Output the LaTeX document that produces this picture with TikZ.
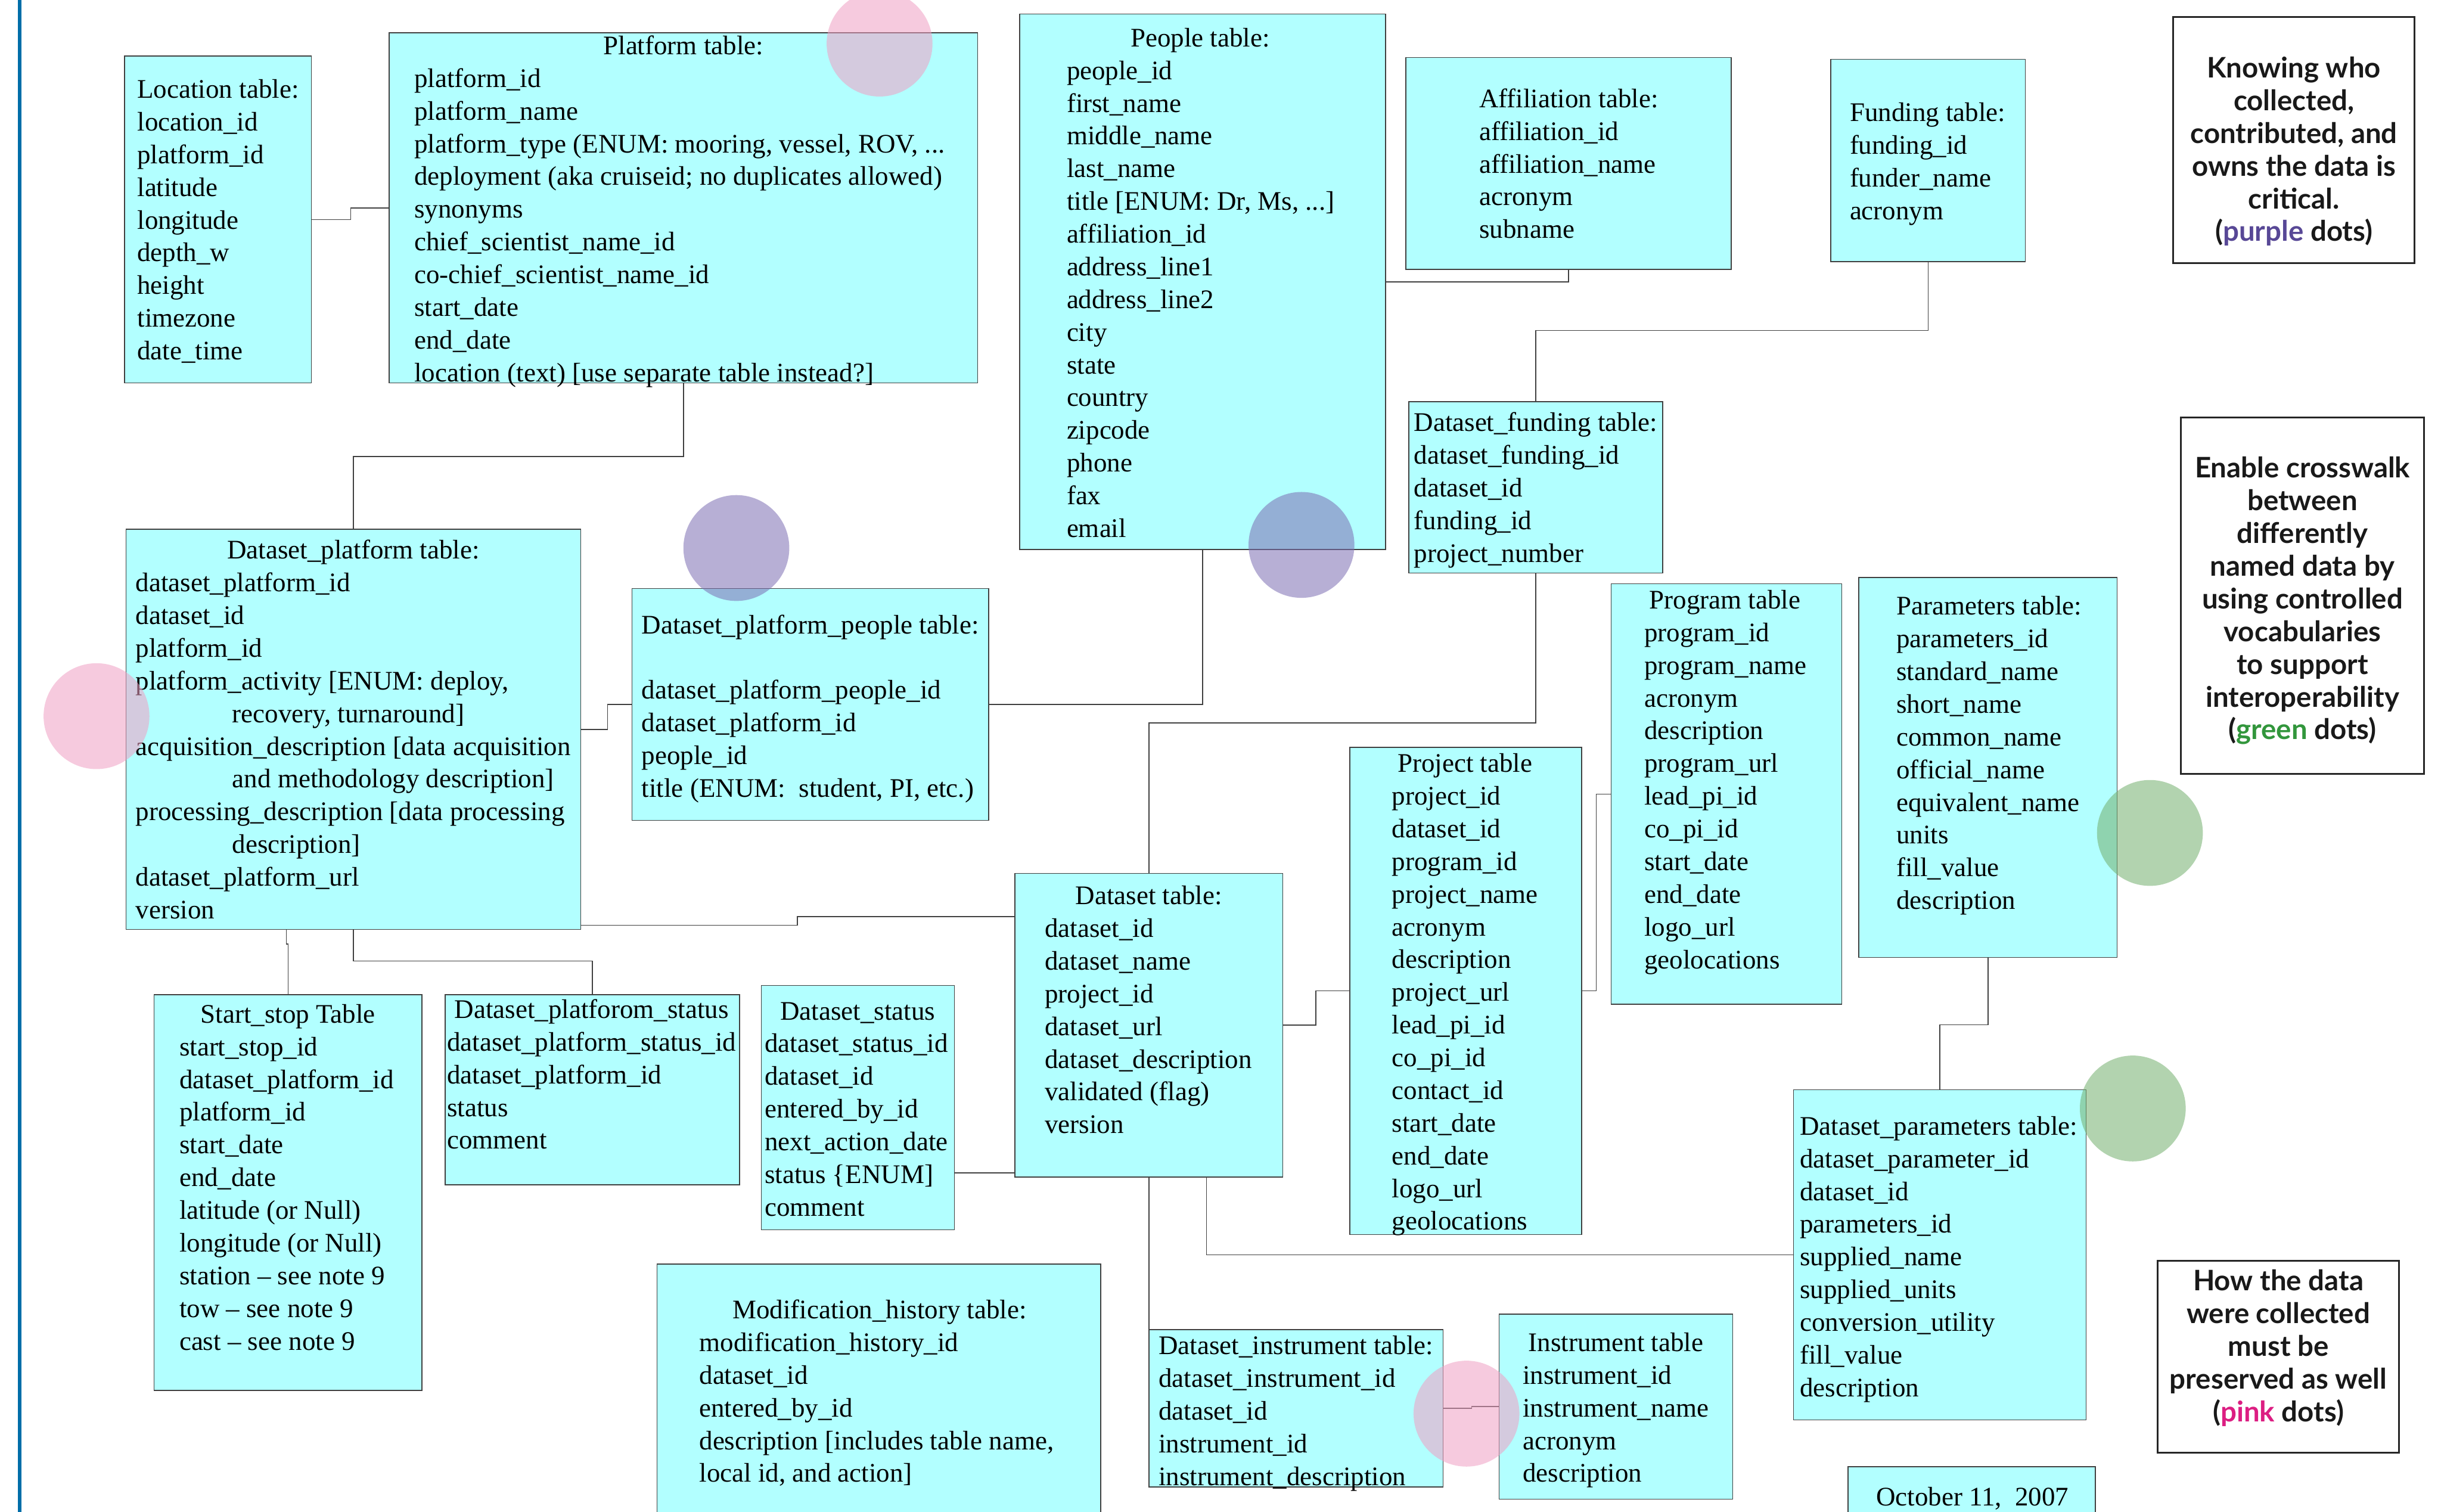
\documentclass[tikz,border=0pt]{standalone}
\usepackage{fontspec}
\setmainfont{Liberation Serif}
\newfontfamily\notefont{Lato}
\usetikzlibrary{fit,calc}

\definecolor{tableCyan}{RGB}{178,255,255}
\definecolor{sideBlue}{RGB}{0,110,168}
\definecolor{pinkDot}{RGB}{240,160,195}
\definecolor{purpleDot}{RGB}{125,110,180}
\definecolor{greenDot}{RGB}{115,175,110}
\definecolor{notePurple}{RGB}{88,72,150}
\definecolor{noteGreen}{RGB}{50,150,60}
\definecolor{notePink}{RGB}{220,30,130}

%% Rows of a table (baseline of the node = first row).
\newcommand{\tableRows}[1]{\begin{tabular}[t]{@{}l@{}}#1\end{tabular}}
\newcommand{\noteRows}[1]{\begin{tabular}[t]{@{}c@{}}#1\end{tabular}}

\begin{document}
\begin{tikzpicture}[x=0.03cm,y=-0.03cm,%%
  tableBox/.style={draw=black!75,line width=0.5pt,fill=tableCyan,inner sep=0pt},%%
  tableText/.style={font=\fontsize{14.7}{17.93}\selectfont,inner sep=0pt,anchor=base west,yshift=-0.03cm},%%
  tableTitle/.style={font=\fontsize{14.7}{17.93}\selectfont,inner sep=0pt,anchor=base,yshift=-0.03cm},%%
  noteBox/.style={draw=black!85,line width=1pt,inner sep=0pt},%%
  noteText/.style={font=\notefont\bfseries\fontsize{15.5}{17.93}\selectfont,inner sep=0pt,anchor=base,text=black!90,yshift=-0.06cm},%%
  linkStyle/.style={draw=black!75,line width=0.5pt},%%
  dotStyle/.style={fill opacity=0.55}%%
]
%%
\clip (0,0) rectangle (1568,971);
\fill[white] (0,0) rectangle (1568,971);
%% Blue rule on the left.
\draw[line width=2pt,draw=sideBlue] (12.5,0) -- (12.5,971);
%%
%% Top row of tables.
\node[tableBox,fit={(80,36) (200,246)}] (location) {};
\node[tableText] (locationText) at (88,62) {\tableRows{Location table:\\location\_id\\platform\_id\\latitude\\longitude\\depth\_w\\height\\timezone\\date\_time}};
%%
\node[tableBox,fit={(250,21) (628,246)}] (platform) {};
\node[tableTitle] (platformTitle) at (439,34) {Platform table:};
\node[tableText] (platformText) at (266,55) {\tableRows{platform\_id\\platform\_name\\platform\_type (ENUM: mooring, vessel, ROV, ...\\deployment (aka cruiseid; no duplicates allowed)\\synonyms\\chief\_scientist\_name\_id\\co-chief\_scientist\_name\_id\\start\_date\\end\_date\\location (text) [use separate table instead?]}};
%%
\node[tableBox,fit={(655,9) (890,353)}] (people) {};
\node[tableTitle] (peopleTitle) at (771,29) {People table:};
\node[tableText] (peopleText) at (685,50) {\tableRows{people\_id\\first\_name\\middle\_name\\last\_name\\title [ENUM: Dr, Ms, ...]\\affiliation\_id\\address\_line1\\address\_line2\\city\\state\\country\\zipcode\\phone\\fax\\email}};
%%
\node[tableBox,fit={(903,37) (1112,173)}] (affiliation) {};
\node[tableText] (affiliationText) at (950,68) {\tableRows{Affiliation table:\\affiliation\_id\\affiliation\_name\\acronym\\subname}};
%%
\node[tableBox,fit={(1176,38) (1301,168)}] (funding) {};
\node[tableText] (fundingText) at (1188,77) {\tableRows{Funding table:\\funding\_id\\funder\_name\\acronym}};
%%
\node[tableBox,fit={(905,258) (1068,368)}] (dsFunding) {};
\node[tableText] (dsFundingText) at (908,276) {\tableRows{Dataset\_funding table:\\dataset\_funding\_id\\dataset\_id\\funding\_id\\project\_number}};
%%
%% Middle row of tables.
\node[tableBox,fit={(81,340) (373,597)}] (dsPlatform) {};
\node[tableTitle] (dsPlatformTitle) at (227,358) {Dataset\_platform table:};
\node[tableText] (dsPlatformText) at (87,379) {\tableRows{dataset\_platform\_id\\dataset\_id\\platform\_id\\platform\_activity [ENUM: deploy,\\\hspace*{1.86cm}recovery, turnaround]\\acquisition\_description [data acquisition\\\hspace*{1.86cm}and methodology description]\\processing\_description [data processing\\\hspace*{1.86cm}description]\\dataset\_platform\_url\\version}};
%%
\node[tableBox,fit={(406,378) (635,527)}] (dpPeople) {};
\node[tableText] (dpPeopleText) at (412,406) {\tableRows{Dataset\_platform\_people table:\\ \\dataset\_platform\_people\_id\\dataset\_platform\_id\\people\_id\\title (ENUM:\ \ student, PI, etc.)}};
%%
\node[tableBox,fit={(1035,375) (1183,645)}] (program) {};
\node[tableTitle] (programTitle) at (1108,390) {Program table};
\node[tableText] (programText) at (1056,411) {\tableRows{program\_id\\program\_name\\acronym\\description\\program\_url\\lead\_pi\_id\\co\_pi\_id\\start\_date\\end\_date\\logo\_url\\geolocations}};
%%
\node[tableBox,fit={(1194,371) (1360,615)}] (parameters) {};
\node[tableText] (parametersText) at (1218,394) {\tableRows{Parameters table:\\parameters\_id\\standard\_name\\short\_name\\common\_name\\official\_name\\equivalent\_name\\units\\fill\_value\\description}};
%%
\node[tableBox,fit={(867,480) (1016,793)}] (project) {};
\node[tableTitle] (projectTitle) at (941,495) {Project table};
\node[tableText] (projectText) at (894,516) {\tableRows{project\_id\\dataset\_id\\program\_id\\project\_name\\acronym\\description\\project\_url\\lead\_pi\_id\\co\_pi\_id\\contact\_id\\start\_date\\end\_date\\logo\_url\\geolocations}};
%%
\node[tableBox,fit={(652,561) (824,756)}] (dataset) {};
\node[tableTitle] (datasetTitle) at (738,580) {Dataset table:};
\node[tableText] (datasetText) at (671,601) {\tableRows{dataset\_id\\dataset\_name\\project\_id\\dataset\_url\\dataset\_description\\validated (flag)\\version}};
%%
%% Bottom row of tables.
\node[tableBox,fit={(99,639) (271,893)}] (startStop) {};
\node[tableTitle] (startStopTitle) at (185,656) {Start\_stop Table};
\node[tableText] (startStopText) at (115,677) {\tableRows{start\_stop\_id\\dataset\_platform\_id\\platform\_id\\start\_date\\end\_date\\latitude (or Null)\\longitude (or Null)\\station – see note 9\\tow – see note 9\\cast – see note 9}};
%%
\node[tableBox,fit={(286,639) (475,761)}] (dpStatus) {};
\node[tableTitle] (dpStatusTitle) at (380,653) {Dataset\_platforom\_status};
\node[tableText] (dpStatusText) at (287,674) {\tableRows{dataset\_platform\_status\_id\\dataset\_platform\_id\\status\\comment}};
%%
\node[tableBox,fit={(489,633) (613,790)}] (dsStatus) {};
\node[tableTitle] (dsStatusTitle) at (551,654) {Dataset\_status};
\node[tableText] (dsStatusText) at (491,675) {\tableRows{dataset\_status\_id\\dataset\_id\\entered\_by\_id\\next\_action\_date\\status \{ENUM]\\comment}};
%%
\node[tableBox,fit={(422,812) (707,990)}] (modHistory) {};
\node[tableTitle] (modHistoryTitle) at (565,846) {Modification\_history table:};
\node[tableText] (modHistoryText) at (449,867) {\tableRows{modification\_history\_id\\dataset\_id\\entered\_by\_id\\description [includes table name,\\local id, and action]}};
%%
\node[tableBox,fit={(1152,700) (1340,912)}] (dsParameters) {};
\node[tableText] (dsParametersText) at (1156,728) {\tableRows{Dataset\_parameters table:\\dataset\_parameter\_id\\dataset\_id\\parameters\_id\\supplied\_name\\supplied\_units\\conversion\_utility\\fill\_value\\description}};
%%
\node[tableBox,fit={(738,854) (927,955)}] (dsInstrument) {};
\node[tableText] (dsInstrumentText) at (744,869) {\tableRows{Dataset\_instrument table:\\dataset\_instrument\_id\\dataset\_id\\instrument\_id\\instrument\_description}};
%%
\node[tableBox,fit={(963,844) (1113,963)}] (instrument) {};
\node[tableTitle] (instrumentTitle) at (1038,867) {Instrument table};
\node[tableText] (instrumentText) at (978,888) {\tableRows{instrument\_id\\instrument\_name\\acronym\\description}};
%%
\node[tableBox,fit={(1187,942) (1346,990)}] (dateBox) {};
\node[tableTitle] (dateText) at (1267,966) {October 11,\ \ 2007};
%%
%% Notes on the right.
\node[noteBox,fit={(1396,11) (1551,169)}] (knowingNote) {};
\node[noteText] (knowingText) at (1473.5,48) {\noteRows{Knowing who\\collected,\\contributed, and\\owns the data is\\critical.\\(\textcolor{notePurple}{purple} dots)}};
%%
\node[noteBox,fit={(1401,268) (1557,497)}] (enableNote) {};
\node[noteText] (enableText) at (1479,305) {\noteRows{Enable crosswalk\\between\\differently\\named data by\\using controlled\\vocabularies\\to support\\interoperability\\(\textcolor{noteGreen}{green} dots)}};
%%
\node[noteBox,fit={(1386,810) (1541,933)}] (howNote) {};
\node[noteText] (howText) at (1463.5,827) {\noteRows{How the data\\were collected\\must be\\preserved as well\\(\textcolor{notePink}{pink} dots)}};
%%
%% Links between the tables.
\draw[linkStyle] (location.east) -- ++(25,0) |- (platform.west);
\draw[linkStyle] (platform.south) -- ++(0,47) -| (dsPlatform.north);
\draw[linkStyle] (dsPlatform.east) -- ++(17,0) |- (dpPeople.west);
\draw[linkStyle] (dpPeople.east) -| (people.south);
\draw[linkStyle] (people.east) -| (affiliation.south);
\draw[linkStyle] (funding.south) -- ++(0,44) -| (dsFunding.north);
\draw[linkStyle] (dsFunding.south) -- ++(0,96) -| (dataset.north);
\draw[linkStyle] ($(dsPlatform.south east)+(0,-3)$) -- ++(139,0) |- ($(dataset.north west)+(0,28)$);
\draw[linkStyle] ($(dsPlatform.south -| startStop.north)+(-1,0)$) -- ++(0,9) -- ++(1,0) -- (startStop.north);
\draw[linkStyle] (dsPlatform.south) -- ++(0,20) -| (dpStatus.north);
\draw[linkStyle] ($(dsStatus.east |- dataset.south west)+(0,-3)$) -- ($(dataset.south west)+(0,-3)$);
\draw[linkStyle] (dataset.east) -- ++(21,0) |- (project.west);
\draw[linkStyle] (project.east) -- ++(9,0) |- (program.west);
\draw[linkStyle] (parameters.south) -- ++(0,43) -| (dsParameters.north);
\draw[linkStyle] ($(dataset.south)+(37,0)$) |- (dsParameters.west);
\draw[linkStyle] (dataset.south) -- (dataset.south |- dsInstrument.north);
\draw[linkStyle] (dsInstrument.east) -- ++(18,0) |- (instrument.west);
%%
%% Coloured dots.
\fill[pinkDot,dotStyle] (565,28) circle [radius=34];
\fill[pinkDot,dotStyle] (62,460) circle [radius=34];
\fill[pinkDot,dotStyle] (942,908) circle [radius=34];
\fill[purpleDot,dotStyle] (473,352) circle [radius=34];
\fill[purpleDot,dotStyle] (836,350) circle [radius=34];
\fill[greenDot,dotStyle] (1381,535) circle [radius=34];
\fill[greenDot,dotStyle] (1370,712) circle [radius=34];
\end{tikzpicture}
\end{document}
